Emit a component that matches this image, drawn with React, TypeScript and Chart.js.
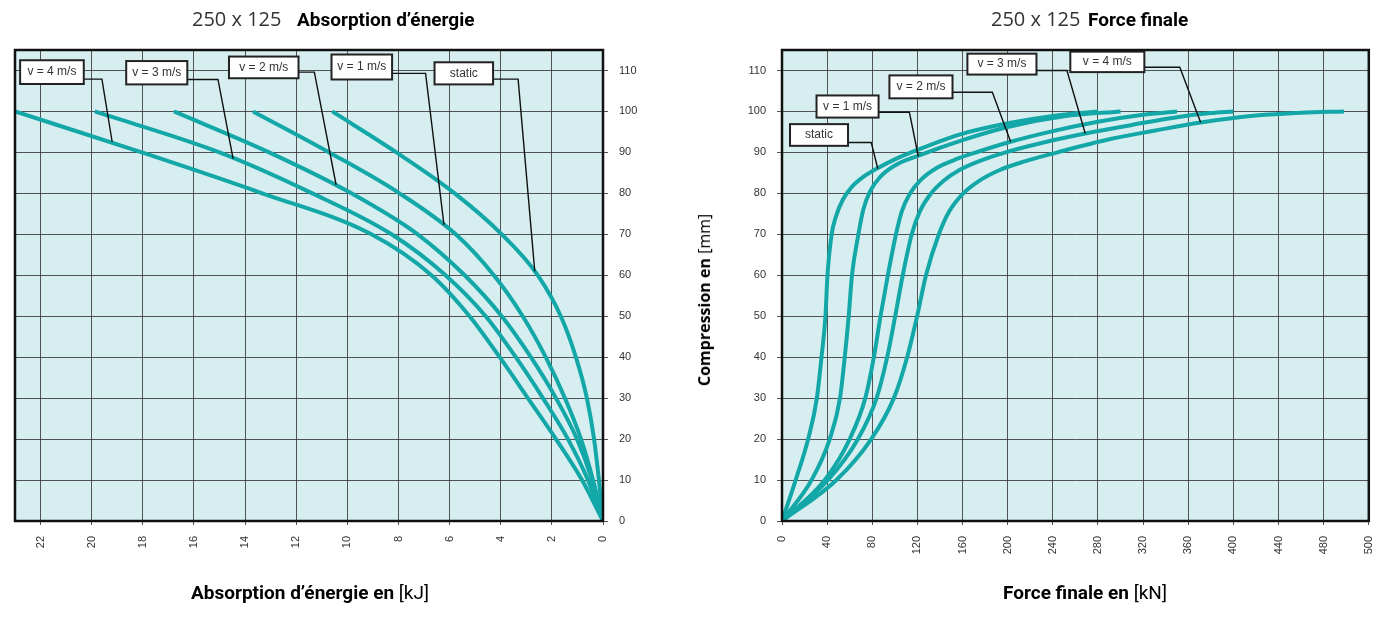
import React, { useEffect, useRef } from "react";
import { Chart, registerables } from "chart.js";

Chart.register(...registerables);

// ---------- Left chart: energy absorption [kJ] vs compression [mm] ----------
const energyV4KJ = [23.0, 18.04, 13.33, 9.06, 6.71, 5.22, 4.04, 2.94, 1.84, 0.82, 0];
const energyV4MM = [100, 90, 80, 70, 60, 50, 40, 30, 20, 10, 0];
const energyV3KJ = [19.88, 15.0, 11.37, 8.27, 6.16, 4.59, 3.41, 2.35, 1.37, 0.59, 0];
const energyV3MM = [100, 90, 80, 70, 60, 50, 40, 30, 20, 10, 0];
const energyV2KJ = [16.78, 13.06, 9.84, 7.25, 5.41, 3.96, 2.82, 1.84, 1.02, 0.43, 0];
const energyV2MM = [100, 90, 80, 70, 60, 50, 40, 30, 20, 10, 0];
const energyV1KJ = [13.69, 10.71, 7.96, 5.76, 4.27, 3.14, 2.24, 1.49, 0.86, 0.39, 0];
const energyV1MM = [100, 90, 80, 70, 60, 50, 40, 30, 20, 10, 0];
const energyStaticKJ = [10.59, 8.08, 5.8, 3.96, 2.55, 1.65, 1.06, 0.63, 0.35, 0.16, 0];
const energyStaticMM = [100, 90, 80, 70, 60, 50, 40, 30, 20, 10, 0];

// ---------- Right chart: final force [kN] vs compression [mm] ----------
const forceStaticKN = [0, 12.1, 23.2, 30.9, 35, 38.5, 40.3, 44, 48, 54, 62, 72, 85, 100, 120, 158, 200, 240, 280];
const forceStaticMM = [0, 10, 20, 30, 40, 50, 60, 70, 74.5, 78.5, 81.6, 84, 86.2, 88.3, 90.6, 94.4, 97.1, 98.9, 100];
const forceV1KN = [0, 26.2, 42.3, 51.4, 55.6, 59.1, 62, 67.7, 72, 78, 87, 100, 121, 160, 200, 250, 300];
const forceV1MM = [0, 10, 20, 30, 40, 50, 60, 70, 76, 80.5, 84, 86.8, 89.2, 93, 96.2, 98.8, 100];
const forceV2KN = [0, 37.9, 60, 73.8, 81.4, 87.3, 93.8, 101, 106, 113, 123, 137, 155, 173, 202.6, 240, 280, 320, 350];
const forceV2MM = [0, 10, 20, 30, 40, 50, 60, 70, 75.5, 79.8, 83.3, 86.2, 88.4, 90.1, 92.6, 95.2, 97.5, 99.2, 100];
const forceV3KN = [0, 40.8, 67.3, 83.8, 93.2, 100.3, 107, 115, 122, 131, 143, 158, 176, 196.7, 230, 268.7, 310, 350, 380, 400];
const forceV3MM = [0, 10, 20, 30, 40, 50, 60, 70, 75.5, 79.6, 83, 85.8, 88, 89.9, 92.3, 94.6, 96.7, 98.6, 99.6, 100];
const forceV4KN = [0, 48.2, 79.1, 99.1, 110.9, 119.7, 127.6, 139, 148, 160, 175, 193, 215, 244, 290, 330, 371, 420, 460, 498];
const forceV4MM = [0, 10, 20, 30, 40, 50, 60, 70, 75.5, 79.8, 83.1, 85.7, 87.8, 90, 93.2, 95.3, 97.3, 99, 99.7, 100];

// Tick labels of the force axis (the last grid line is labelled 500 in the original)
const forceTickLabels = ["0", "40", "80", "120", "160", "200", "240", "280", "320", "360", "400", "440", "480", "500"];

// Label call-outs (data coordinates): box [x1, x2, yTop, yBottom], elbow [x, y], target [x, y]
const energyCallouts = [
  { text: "v = 4 m/s", box: [22.8, 20.31, 112.5, 106.7], elbow: [19.6, 107.9], target: [19.2, 92.6] },
  { text: "v = 3 m/s", box: [18.65, 16.26, 112.3, 106.6], elbow: [15.06, 107.8], target: [14.47, 88.5] },
  { text: "v = 2 m/s", box: [14.63, 11.91, 113.4, 108.1], elbow: [11.29, 109.6], target: [10.44, 82.1] },
  { text: "v = 1 m/s", box: [10.62, 8.25, 113.9, 107.8], elbow: [6.94, 109.3], target: [6.22, 72.3] },
  { text: "static", box: [6.59, 4.3, 112.0, 106.6], elbow: [3.32, 107.9], target: [2.67, 61.0] },
];
const forceCallouts = [
  { text: "static", box: [7.1, 58.5, 96.9, 91.6], elbow: [79.1, 92.4], target: [84.9, 86.0] },
  { text: "v = 1 m/s", box: [30.6, 85.6, 103.9, 98.5], elbow: [112.9, 99.8], target: [120.8, 89.0] },
  { text: "v = 2 m/s", box: [95.2, 151.1, 108.8, 103.2], elbow: [186.4, 104.7], target: [202.6, 92.6] },
  { text: "v = 3 m/s", box: [164.3, 225.5, 114.1, 109.0], elbow: [252.5, 110.0], target: [268.7, 94.6] },
  { text: "v = 4 m/s", box: [255.5, 321.1, 114.6, 109.6], elbow: [352.5, 110.8], target: [371, 97.3] },
];

const TEAL = "#13a7a8";
const PLOT_BG = "#d6eef0";
const GRID = "rgba(55,55,55,0.85)";
const TICK_FONT = { family: "'Liberation Sans', Arial, sans-serif", size: 11 };
const TICK_COLOR = "#333";

function pts(xs: number[], ys: number[]) {
  return xs.map((x, i) => ({ x, y: ys[i] }));
}

function lineDs(label: string, xs: number[], ys: number[]) {
  return {
    label,
    data: pts(xs, ys),
    borderColor: TEAL,
    backgroundColor: TEAL,
    borderWidth: 4,
    pointRadius: 0,
    fill: false,
    cubicInterpolationMode: "monotone" as const,
    borderCapStyle: "butt" as const,
  };
}

const framePlugin = {
  id: "frame",
  beforeDraw(chart: any) {
    const { ctx, chartArea: a } = chart;
    ctx.save();
    ctx.fillStyle = PLOT_BG;
    ctx.fillRect(a.left, a.top, a.right - a.left, a.bottom - a.top);
    ctx.restore();
  },
  afterDraw(chart: any) {
    const { ctx, chartArea: a } = chart;
    ctx.save();
    ctx.strokeStyle = "#111";
    ctx.lineWidth = 2.5;
    ctx.strokeRect(a.left, a.top, a.right - a.left, a.bottom - a.top);
    ctx.restore();
  },
};

function calloutPlugin(items: any[]) {
  return {
    id: "callouts",
    afterDatasetsDraw(chart: any) {
      const { ctx } = chart;
      const xs = chart.scales.x;
      const ys = chart.scales.y;
      ctx.save();
      items.forEach((it) => {
        const px1 = xs.getPixelForValue(it.box[0]);
        const px2 = xs.getPixelForValue(it.box[1]);
        const left = Math.min(px1, px2);
        const right = Math.max(px1, px2);
        const top = ys.getPixelForValue(it.box[2]);
        const bottom = ys.getPixelForValue(it.box[3]);
        const ex = xs.getPixelForValue(it.elbow[0]);
        const ey = ys.getPixelForValue(it.elbow[1]);
        const tx = xs.getPixelForValue(it.target[0]);
        const ty = ys.getPixelForValue(it.target[1]);
        ctx.strokeStyle = "#111";
        ctx.lineWidth = 1.4;
        ctx.beginPath();
        ctx.moveTo(right, ey);
        ctx.lineTo(ex, ey);
        ctx.lineTo(tx, ty);
        ctx.stroke();
        ctx.fillStyle = "#fff";
        ctx.fillRect(left, top, right - left, bottom - top);
        ctx.strokeStyle = "#222";
        ctx.lineWidth = 2;
        ctx.strokeRect(left, top, right - left, bottom - top);
        ctx.fillStyle = "#333";
        ctx.font = "12px 'Liberation Sans', Arial, sans-serif";
        ctx.textAlign = "center";
        ctx.textBaseline = "middle";
        ctx.fillText(it.text, (left + right) / 2, (top + bottom) / 2);
      });
      ctx.restore();
    },
  };
}

function energyConfig(): any {
  return {
    type: "line",
    data: {
      datasets: [
        lineDs("v = 4 m/s", energyV4KJ, energyV4MM),
        lineDs("v = 3 m/s", energyV3KJ, energyV3MM),
        lineDs("v = 2 m/s", energyV2KJ, energyV2MM),
        lineDs("v = 1 m/s", energyV1KJ, energyV1MM),
        lineDs("static", energyStaticKJ, energyStaticMM),
      ],
    },
    options: {
      animation: false,
      responsive: false,
      devicePixelRatio: 1,
      layout: { padding: { left: 15, top: 50, right: 43, bottom: 40 } },
      plugins: { legend: { display: false }, tooltip: { enabled: false }, title: { display: false } },
      scales: {
        x: {
          type: "linear",
          reverse: true,
          min: 0,
          max: 23,
          position: "bottom",
          border: { display: false },
          grid: { color: GRID, lineWidth: 1, tickLength: 4, drawTicks: true },
          ticks: { stepSize: 2, includeBounds: false, minRotation: 90, maxRotation: 90, padding: 11, font: TICK_FONT, color: TICK_COLOR },
          afterFit: (s: any) => { s.height = 60; },
        },
        y: {
          type: "linear",
          position: "right",
          min: 0,
          max: 115,
          border: { display: false },
          grid: { color: GRID, lineWidth: 1, tickLength: 5, drawTicks: true },
          ticks: { stepSize: 10, includeBounds: false, padding: 11, font: TICK_FONT, color: TICK_COLOR },
          afterFit: (s: any) => { s.width = 50; },
        },
      },
    },
    plugins: [framePlugin, calloutPlugin(energyCallouts)],
  };
}

function forceConfig(): any {
  return {
    type: "line",
    data: {
      datasets: [
        lineDs("static", forceStaticKN, forceStaticMM),
        lineDs("v = 1 m/s", forceV1KN, forceV1MM),
        lineDs("v = 2 m/s", forceV2KN, forceV2MM),
        lineDs("v = 3 m/s", forceV3KN, forceV3MM),
        lineDs("v = 4 m/s", forceV4KN, forceV4MM),
      ],
    },
    options: {
      animation: false,
      responsive: false,
      devicePixelRatio: 1,
      layout: { padding: { left: 36, top: 50, right: 23, bottom: 40 } },
      plugins: { legend: { display: false }, tooltip: { enabled: false }, title: { display: false } },
      scales: {
        x: {
          type: "linear",
          min: 0,
          max: 520,
          position: "bottom",
          border: { display: false },
          grid: { color: GRID, lineWidth: 1, tickLength: 4, drawTicks: true },
          ticks: {
            stepSize: 40,
            includeBounds: false,
            minRotation: 90,
            maxRotation: 90,
            padding: 11,
            font: TICK_FONT,
            color: TICK_COLOR,
            callback: (_v: any, i: number) => forceTickLabels[i] ?? "",
          },
          afterFit: (s: any) => { s.height = 60; },
        },
        y: {
          type: "linear",
          position: "left",
          min: 0,
          max: 115,
          border: { display: false },
          grid: { color: GRID, lineWidth: 1, tickLength: 5, drawTicks: true },
          ticks: { stepSize: 10, includeBounds: false, padding: 11, font: TICK_FONT, color: TICK_COLOR },
          afterFit: (s: any) => { s.width = 50; },
        },
      },
    },
    plugins: [framePlugin, calloutPlugin(forceCallouts)],
  };
}

function ChartCanvas({ config, left, width }: { config: () => any; left: number; width: number }) {
  const ref = useRef<HTMLCanvasElement>(null);
  useEffect(() => {
    const chart = new Chart(ref.current as HTMLCanvasElement, config());
    return () => chart.destroy();
  }, []);
  return (
    <canvas
      ref={ref}
      width={width}
      height={621}
      style={{ position: "absolute", left, top: 0, width, height: 621 }}
    />
  );
}

const sizeFont = "'Open Sans', 'Liberation Sans', sans-serif";
const condFont = "'Liberation Sans Narrow', 'Roboto', sans-serif";

function Txt({ left, top, children, style }: any) {
  return (
    <div style={{ position: "absolute", left, top, whiteSpace: "nowrap", lineHeight: 1, ...style }}>{children}</div>
  );
}

export default function App() {
  return (
    <div style={{ position: "absolute", left: 0, top: 0, width: 1393, height: 621, background: "#fff", overflow: "hidden" }}>
      <ChartCanvas config={energyConfig} left={0} width={696} />
      <ChartCanvas config={forceConfig} left={696} width={697} />

      <Txt left={192} top={9} style={{ fontFamily: sizeFont, fontSize: 20, color: "#333" }}>250 x 125</Txt>
      <Txt left={297} top={10} style={{ fontFamily: condFont, fontSize: 19, fontWeight: 700, color: "#000" }}>Absorption d’énergie</Txt>

      <Txt left={991} top={9} style={{ fontFamily: sizeFont, fontSize: 20, color: "#333" }}>250 x 125</Txt>
      <Txt left={1088} top={10} style={{ fontFamily: condFont, fontSize: 19, fontWeight: 700, color: "#000" }}>Force finale</Txt>

      <Txt left={191} top={583} style={{ fontFamily: condFont, fontSize: 19, color: "#000" }}>
        <span style={{ fontWeight: 700 }}>Absorption d’énergie en </span>
        <span style={{ fontWeight: 400 }}>[kJ]</span>
      </Txt>
      <Txt left={1003} top={583} style={{ fontFamily: condFont, fontSize: 19, color: "#000" }}>
        <span style={{ fontWeight: 700 }}>Force finale en </span>
        <span style={{ fontWeight: 400 }}>[kN]</span>
      </Txt>

      <div
        style={{
          position: "absolute",
          left: 704,
          top: 300,
          transform: "translate(-50%, -50%) rotate(-90deg)",
          whiteSpace: "nowrap",
          lineHeight: 1,
          fontFamily: sizeFont,
          fontSize: 16,
          color: "#000",
        }}
      >
        <span style={{ fontWeight: 700 }}>Compression en </span>
        <span style={{ fontWeight: 400 }}>[mm]</span>
      </div>
    </div>
  );
}
